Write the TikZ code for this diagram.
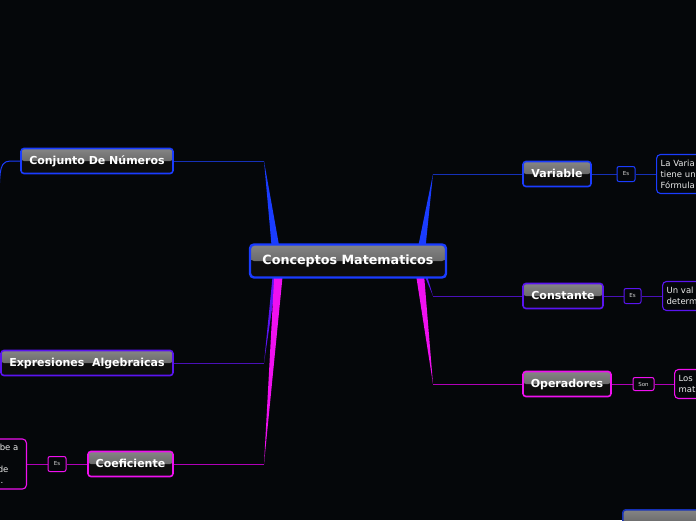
\documentclass[tikz,border=0pt]{standalone}
\usepackage{fontspec}
\setmainfont{DejaVu Sans}
\usepackage{xcolor}
\usetikzlibrary{positioning,calc,backgrounds}

\definecolor{bgc}{HTML}{05070A}
\definecolor{cblue}{HTML}{1A3CFF}
\definecolor{cpurp}{HTML}{5A14F0}
\definecolor{cmag}{HTML}{F010F0}
\definecolor{lblue}{HTML}{1530B8}
\definecolor{lpurp}{HTML}{4A10B8}
\definecolor{lmag}{HTML}{B000B8}

\begin{document}
\begin{tikzpicture}[x=1pt,y=-1pt,
    bx/.style={draw=#1, line width=1.6pt, rounded corners=3pt, fill=black!95,
               text=white, font=\bfseries\fontsize{11}{12}\selectfont,
               inner sep=0pt, minimum height=25pt, text depth=2pt,
               path picture={\fill[top color=black!48, bottom color=black!68]
                 (path picture bounding box.north west) rectangle
                 (path picture bounding box.east);}},
    tg/.style={draw=#1, line width=1pt, rounded corners=2pt, fill=bgc,
               text=white!85!black, font=\fontsize{5.5}{6}\selectfont,
               inner sep=0pt, minimum height=15pt},
    dsc/.style={draw=#1, line width=1.1pt, rounded corners=4pt, fill=bgc,
                text=white!92!black, font=\fontsize{8.5}{11}\selectfont,
                inner sep=4pt, text width=70pt},
    ln/.style={#1, line width=1pt}
  ]
    \begin{scope}[on background layer]
      \fill[bgc] (0,0) rectangle (696,520);
    \end{scope}
    \useasboundingbox (0,0) rectangle (696,520);

    % centre and main branches
    \node[bx=cblue, line width=2.4pt, rounded corners=4pt, minimum width=196pt,
          minimum height=33pt, font=\bfseries\fontsize{12.7}{14}\selectfont]
      (root) at (348,261) {Conceptos Matematicos};
    \node[bx=cblue, minimum width=68pt]  (var)  at (557,174) {Variable};
    \node[bx=cpurp, minimum width=80pt]  (cst)  at (563,296) {Constante};
    \node[bx=cmag,  minimum width=88pt]  (ops)  at (567,384) {Operadores};
    \node[bx=cblue, minimum width=152pt] (conj) at (97,161)  {Conjunto De N\'umeros};
    \node[bx=cpurp, minimum width=172pt] (expr) at (87,363)  {Expresiones\ \ Algebraicas};
    \node[bx=cmag,  minimum width=85pt]  (coef) at (130.5,464) {Coeficiente};
    \node[bx=lblue, anchor=north west, minimum width=100pt] (sub) at (622,509) {};

    % link words
    \node[tg=cblue, minimum width=18pt] (esV) at (626,174)   {Es};
    \node[tg=cpurp, minimum width=17pt] (esK) at (632.5,296) {Es};
    \node[tg=cmag,  minimum width=21pt, minimum height=13pt] (son) at (643.5,384) {Son};
    \node[tg=cmag,  minimum width=18pt] (esC) at (57,464)    {Es};

    % descriptions (cut by the page edge)
    \node[dsc=cblue, anchor=west, minimum height=39pt] (dV) at (656,174)
      {La Varia\\tiene un\\F\'ormula};
    \node[dsc=cpurp, anchor=west, minimum height=29pt] (dK) at (662,296)
      {Un val\\determ};
    \node[dsc=cmag, anchor=west, minimum height=29pt] (dO) at (674,384)
      {Los\\mat};
    \node[dsc=cmag, anchor=east, minimum height=50pt, align=right] (dC) at (27,464)
      {be a\kern4pt\\\strut\\de\kern14pt\\.\kern19pt};

    \begin{scope}[on background layer]
      \coordinate (tV) at (433,174);
      \coordinate (tK) at (433,296);
      \coordinate (tO) at (433,384);
      \coordinate (tN) at (264,161);
      \coordinate (tE) at (264,363);
      \coordinate (tC) at (264,464);
      \coordinate (offL) at (-2,194);
      % tapered branches
      \fill[cblue] (415,262) -- (424,262) -- (tV) -- cycle;
      \fill[cpurp] (419,262) -- (423,262) -- (tK) -- cycle;
      \fill[cmag]  (414,262) -- (423,262) -- (tO) -- cycle;
      \fill[cblue] (273,262) -- (282,262) -- (tN) -- cycle;
      \fill[cpurp] (274,262) -- (279,262) -- (tE) -- cycle;
      \fill[cmag]  (275,262) -- (284,262) -- (tC) -- cycle;
      % thin links
      \draw[ln=lblue] (tV) -- (var.west);
      \draw[ln=lpurp] (tK) -- (cst.west);
      \draw[ln=lmag]  (tO) -- (ops.west);
      \draw[ln=lblue] (tN) -- (conj.east);
      \draw[ln=lpurp] (tE) -- (expr.east);
      \draw[ln=lmag]  (tC) -- (coef.east);
      \draw[ln=lblue] (var.east) -- (esV) -- (dV.west);
      \draw[ln=lpurp] (cst.east) -- (esK) -- (dK.west);
      \draw[ln=lmag]  (ops.east) -- (son) -- (dO.west);
      \draw[ln=lmag]  (coef.west) -- (esC) -- (dC.east);
      \draw[ln=cblue] (conj.west) -- ++(-10,0) to[out=180,in=75] (offL);
    \end{scope}
\end{tikzpicture}
\end{document}
